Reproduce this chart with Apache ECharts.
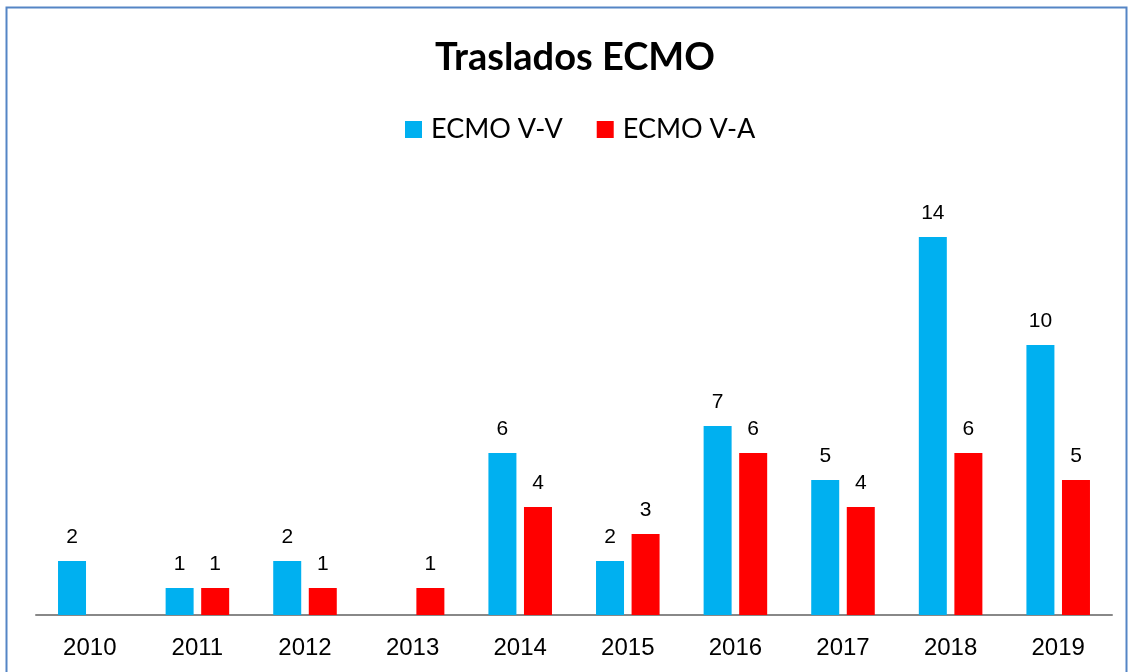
<!DOCTYPE html>
<html lang="es">
<head>
    <meta charset="UTF-8">
    <title>Traslados ECMO</title>
    <script src="https://cdn.jsdelivr.net/npm/echarts@6/dist/echarts.min.js"></script>
    <style>
        body { margin: 0; background: #fff; }
        #app { width: 1131px; height: 672px; }
    </style>
</head>
<body>
    <div id="app"></div>
    <script>
        let years = ['2010', '2011', '2012', '2013', '2014', '2015', '2016', '2017', '2018', '2019']
        let ecmoVV = [2, 1, 2, 0, 6, 2, 7, 5, 14, 10]
        let ecmoVA = [0, 1, 1, 1, 4, 3, 6, 4, 6, 5]

        let mCharts = echarts.init(document.getElementById('app'))
        let barLabel = {
            show: true,
            position: 'top',
            distance: 13,
            fontFamily: 'Liberation Sans',
            fontSize: 21,
            color: '#000',
            formatter: p => p.value ? p.value : ''
        }
        let option = {
            animation: false,
            graphic: [{
                type: 'rect',
                shape: { x: 6.5, y: 7.5, width: 1120, height: 700 },
                style: { fill: 'none', stroke: '#5585c5', lineWidth: 2 }
            }],
            title: {
                text: 'Traslados ECMO',
                left: 430,
                top: 34,
                textStyle: { fontFamily: 'Lato', fontWeight: 'bold', fontSize: 38, color: '#000' }
            },
            legend: {
                top: 111,
                left: 400,
                itemWidth: 17,
                itemHeight: 17,
                itemGap: 34,
                icon: 'rect',
                textStyle: { fontFamily: 'Lato', fontSize: 27, color: '#000', padding: [0, 0, 0, 4] }
            },
            grid: { left: 36, right: 19, top: 237, bottom: 57 },
            xAxis: {
                type: 'category',
                data: years,
                axisLine: { lineStyle: { color: '#888', width: 2 } },
                axisTick: { show: false },
                axisLabel: { margin: 21, fontFamily: 'Liberation Sans', fontSize: 24, color: '#000' }
            },
            yAxis: {
                type: 'value',
                min: 0,
                max: 14,
                show: false,
                splitLine: { show: false }
            },
            series: [
                {
                    name: 'ECMO V-V',
                    type: 'bar',
                    data: ecmoVV,
                    barWidth: 28,
                    barGap: '27%',
                    itemStyle: { color: '#00b0f0' },
                    label: barLabel
                },
                {
                    name: 'ECMO V-A',
                    type: 'bar',
                    data: ecmoVA,
                    barWidth: 28,
                    itemStyle: { color: '#ff0000' },
                    label: barLabel
                }
            ]
        }
        mCharts.setOption(option)
    </script>
</body>
</html>
